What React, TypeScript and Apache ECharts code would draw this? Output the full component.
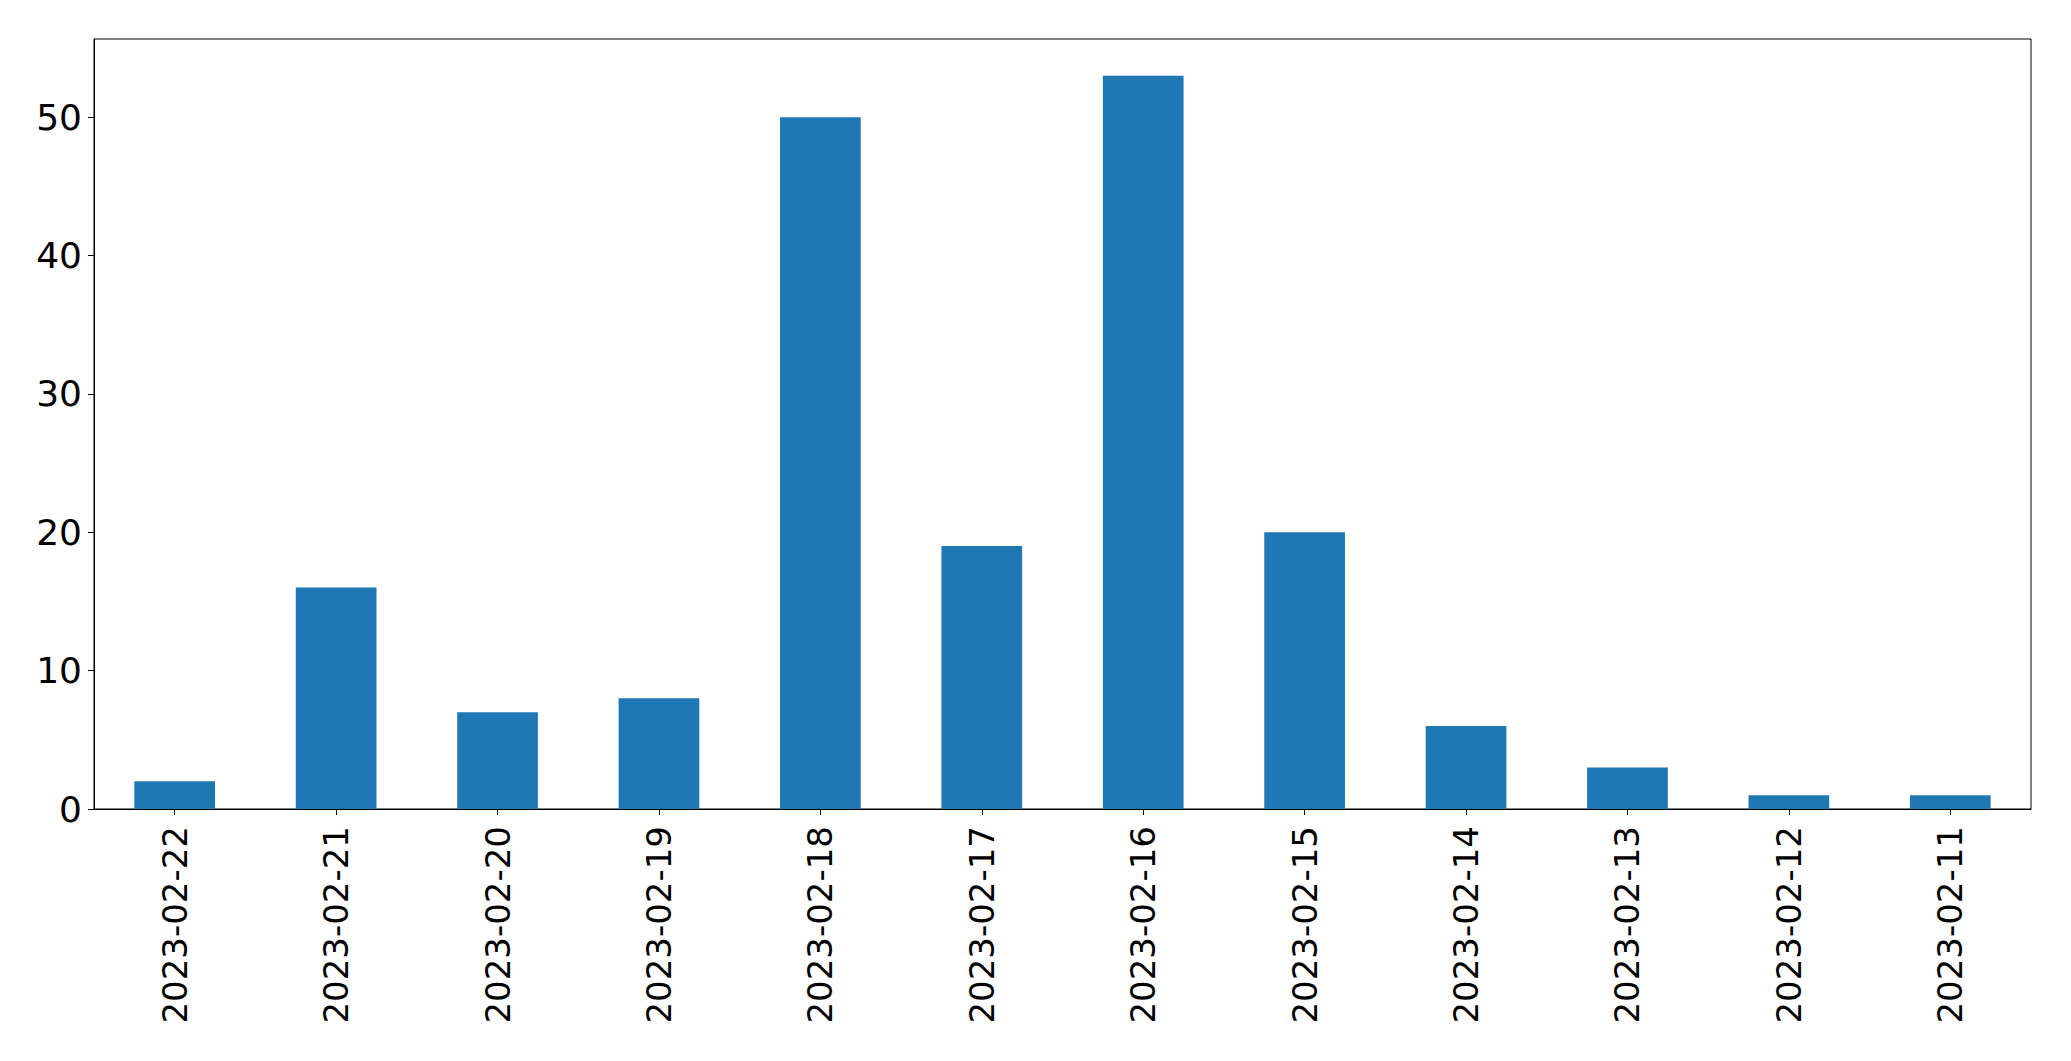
import React, { useEffect, useRef } from "react";
import * as echarts from "echarts";

const categories = [
  "2023-02-22", "2023-02-21", "2023-02-20", "2023-02-19", "2023-02-18", "2023-02-17",
  "2023-02-16", "2023-02-15", "2023-02-14", "2023-02-13", "2023-02-12", "2023-02-11",
];
const values = [2, 16, 7, 8, 50, 19, 53, 20, 6, 3, 1, 1];
const yTicks = [0, 10, 20, 30, 40, 50];
const yMax = 55.65;

export default function App() {
  const ref = useRef<HTMLDivElement>(null);
  useEffect(() => {
    if (!ref.current) return;
    const chart = echarts.init(ref.current, null, { renderer: "svg" });
    const font = "DejaVu Sans";
    chart.setOption({
      animation: false,
      backgroundColor: "#ffffff",
      grid: {
        left: 94, right: 40, top: 39, bottom: 252,
        show: true, borderColor: "#000000", borderWidth: 1, backgroundColor: "transparent",
      },
      xAxis: {
        type: "category",
        data: categories,
        boundaryGap: true,
        axisLine: { show: true, lineStyle: { color: "#000000", width: 1 } },
        axisTick: { show: true, alignWithLabel: true, length: 6, lineStyle: { color: "#000000", width: 1 } },
        axisLabel: { rotate: 90, margin: 17, color: "#000000", fontSize: 34, fontFamily: font },
        splitLine: { show: false },
      },
      yAxis: {
        type: "value",
        min: 0,
        max: yMax,
        interval: 10,
        axisLine: { show: true, lineStyle: { color: "#000000", width: 1 } },
        axisTick: { show: true, length: 6, customValues: yTicks, lineStyle: { color: "#000000", width: 1 } },
        axisLabel: { customValues: yTicks, margin: 12, color: "#000000", fontSize: 36, fontFamily: font },
        splitLine: { show: false },
      },
      series: [
        {
          type: "bar",
          data: values,
          barWidth: "50%",
          itemStyle: { color: "#1f77b4" },
        },
      ],
    });
    return () => chart.dispose();
  }, []);
  return <div ref={ref} style={{ position: "fixed", left: 0, top: 0, width: 2071, height: 1061 }} />;
}
